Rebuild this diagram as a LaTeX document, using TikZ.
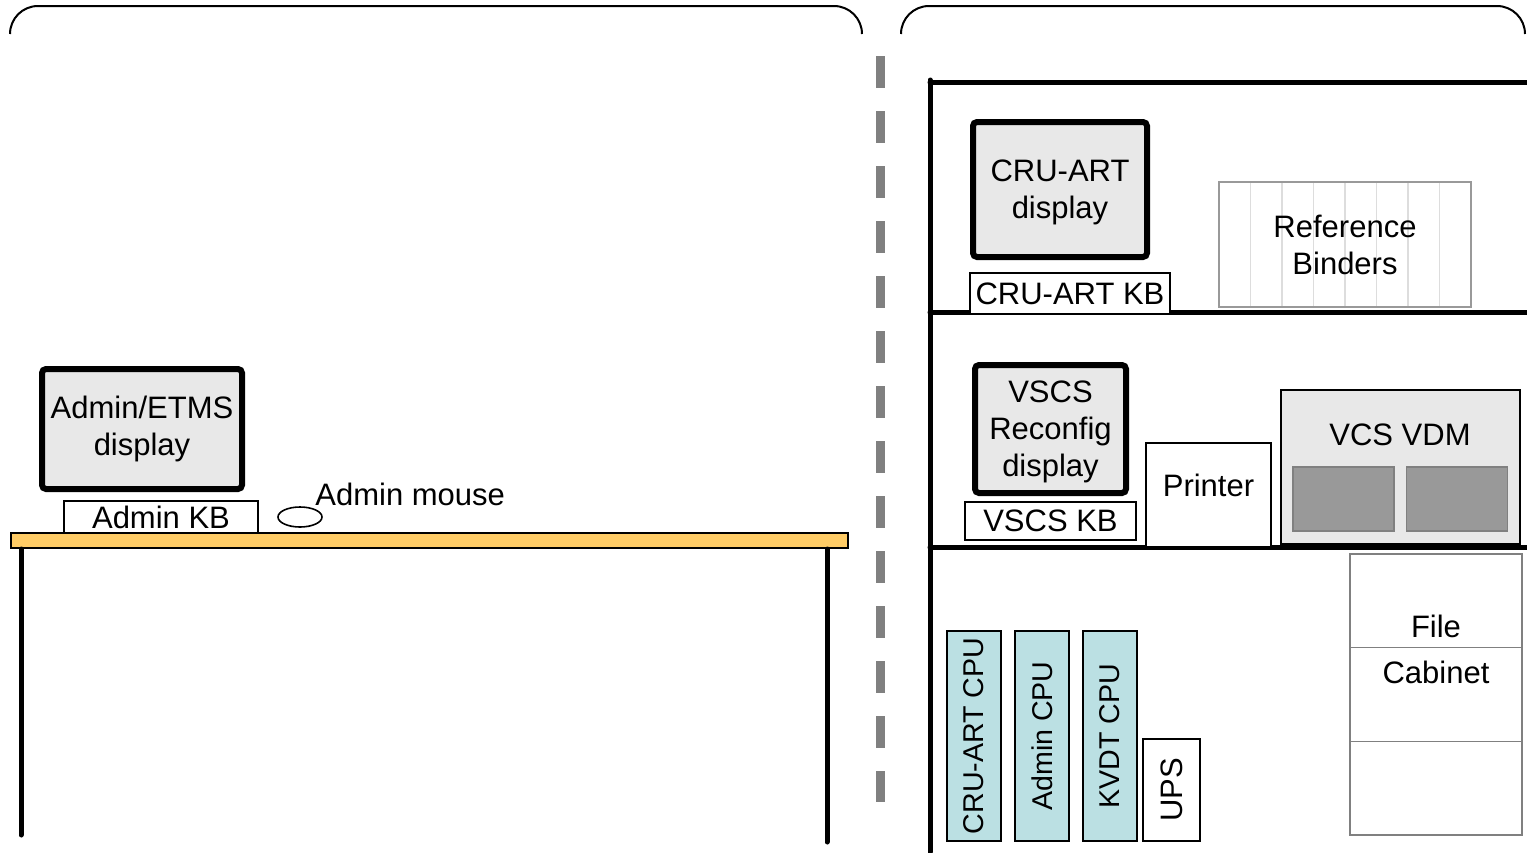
\documentclass[tikz,border=0pt]{standalone}
\usepackage{fontspec}
\setmainfont{Liberation Sans}
\usetikzlibrary{positioning, calc, shapes.geometric}
\definecolor{DeskTop}{HTML}{FFCC66}
\definecolor{ScreenGray}{HTML}{E8E8E8}
\definecolor{CpuTeal}{HTML}{BBE0E3}
\definecolor{PanelGray}{HTML}{999999}
\definecolor{RuleGray}{HTML}{808080}
\definecolor{BinderLine}{HTML}{DDDDDD}

\begin{document}
\begin{tikzpicture}[x=0.5pt, y=-0.5pt,
    every node/.style={font=\fontsize{15.5}{18.5}\selectfont, inner sep=0pt, align=center},
    display/.style={draw, line width=3pt, fill=ScreenGray, rounded corners=2pt},
    kbbox/.style={draw, line width=0.7pt, fill=white},
    cpubox/.style={draw, line width=0.9pt, fill=CpuTeal, rotate=90, font=\fontsize{14.3}{17}\selectfont},
    furniture/.style={draw=gray, line width=0.8pt},
    vdmpanel/.style={draw=gray, line width=0.7pt, fill=PanelGray, minimum width=50.5pt, minimum height=32pt},
    shelf/.style={line width=2.5pt, line cap=round}]
    \useasboundingbox (0,0) rectangle (1527,852);

    % room braces and divider
    \draw[line width=1pt, rounded corners=14pt] (10,34) |- (436,6) -| (862,34);
    \draw[line width=1pt, rounded corners=14pt] (901,34) |- (1213,6) -| (1525,34);
    \draw[RuleGray, line width=4.5pt, dash pattern=on 16pt off 11.5pt] (880,56) -- (880,802);

    % desk
    \node[draw, line width=1pt, fill=DeskTop, minimum width=418.5pt, minimum height=7.5pt] (desk) at (429.5,540.5) {};
    \coordinate (legL) at (21,835);
    \coordinate (legR) at (827,842);
    \draw[shelf] (desk.south -| legL) -- (legL);
    \draw[shelf] (desk.south -| legR) -- (legR);
    \node[display, minimum width=100pt, minimum height=60pt] (admindisp) at (142,429) {Admin/ETMS\\display};
    \node[kbbox, minimum width=97pt, minimum height=16pt] (adminkb) at (161,517) {Admin KB};
    \node[ellipse, draw, line width=0.8pt, minimum width=22pt, minimum height=10pt] (mouse) at (300,517) {};
    \node[anchor=west] (mouselbl) at (315,494) {Admin mouse};

    % shelving
    \coordinate (wallTop) at (930,80);
    \coordinate (wallFoot) at (930,852);
    \draw[shelf] (wallTop) -- (wallFoot);
    \foreach \y in {82,312,547}
        \draw[shelf] (930,\y) -- (1527,\y);

    \node[display, text depth=-0.5pt, minimum width=87pt, minimum height=67.5pt] (crudisp) at (1060,189.5) {CRU-ART\\display};
    \node[kbbox, minimum width=100pt, minimum height=20.5pt] (crukb) at (1070,293.5) {CRU-ART KB};
    \node[furniture, draw=gray!80, minimum width=126pt, minimum height=62.5pt,
        path picture={\foreach \i in {1,...,7}
            \draw[BinderLine, line width=0.8pt] ($(path picture bounding box.north west)!\i/8!(path picture bounding box.north east)$) -- ($(path picture bounding box.south west)!\i/8!(path picture bounding box.south east)$);}]
        (binders) at (1345,244.5) {Reference\\Binders};

    \node[display, text depth=-0.5pt, minimum width=75.5pt, minimum height=64pt] (vscsdisp) at (1050.5,429) {VSCS\\Reconfig\\display};
    \node[kbbox, minimum width=85.5pt, minimum height=19pt] (vscskb) at (1050.5,521) {VSCS KB};
    \node[kbbox, text depth=10pt, minimum width=62.5pt, minimum height=52pt] (printer) at (1208.5,495) {Printer};
    \node[draw, line width=1pt, fill=ScreenGray, minimum width=119.5pt, minimum height=77pt] (vdm) at (1400.5,467) {};
    \node (vdmtext) at (1400,435) {VCS VDM};
    \node[vdmpanel] (vdmleft) at (1343.5,499) {};
    \node[vdmpanel] (vdmright) at (1457,499) {};

    \node[cpubox, minimum width=105pt, minimum height=27pt] (crucpu) at (974,736) {CRU-ART CPU};
    \node[cpubox, minimum width=105pt, minimum height=27pt] (admincpu) at (1042,736) {Admin CPU};
    \node[cpubox, minimum width=105pt, minimum height=27pt] (kvdtcpu) at (1110,736) {KVDT CPU};
    \node[kbbox, rotate=90, minimum width=51pt, minimum height=28.5pt] (ups) at (1171.5,790) {UPS};
    \node[furniture, minimum width=86pt, minimum height=140.5pt,
        path picture={\foreach \i in {1,2}
            \draw[gray, line width=0.8pt] ($(path picture bounding box.north west)!\i/3!(path picture bounding box.south west)$) -- ($(path picture bounding box.north east)!\i/3!(path picture bounding box.south east)$);}]
        (cabinet) at (1436,694.5) {};
    \node (cabtext) at (1436,649) {File\\[4.5pt]Cabinet};
\end{tikzpicture}
\end{document}
